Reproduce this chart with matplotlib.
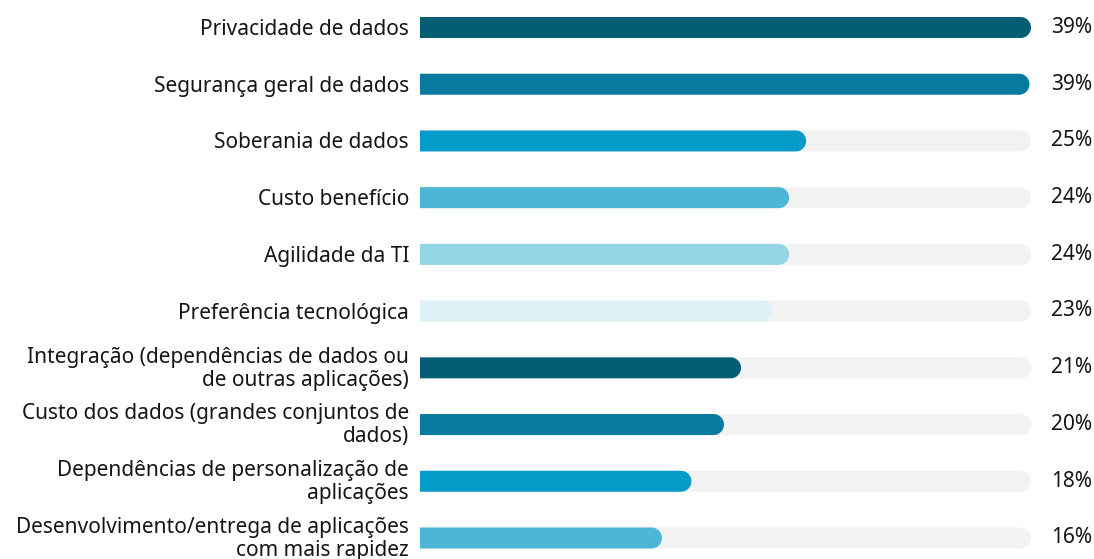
import numpy as np
import matplotlib.pyplot as plt
from matplotlib.patches import Polygon

categories = [
    "Privacidade de dados",
    "Segurança geral de dados",
    "Soberania de dados",
    "Custo benefício",
    "Agilidade da TI",
    "Preferência tecnológica",
    "Integração (dependências de dados ou\nde outras aplicações)",
    "Custo dos dados (grandes conjuntos de\ndados)",
    "Dependências de personalização de\naplicações",
    "Desenvolvimento/entrega de aplicações\ncom mais rapidez",
]
values = [39.4, 39.3, 24.9, 23.8, 23.8, 22.7, 20.7, 19.6, 17.5, 15.6]
value_labels = ["39%", "39%", "25%", "24%", "24%", "23%", "21%", "20%", "18%", "16%"]

palette = ["#055d74", "#077a9d", "#069bc8", "#4db6d7", "#93d4e5", "#dcf0f6"]
track_color = "#f2f2f2"
text_color = "#151515"

W, H = 1094, 559
fig = plt.figure(figsize=(W / 100, H / 100), dpi=100)
ax_left, ax_right = 420, 1031
ax = fig.add_axes([ax_left / W, 0, (ax_right - ax_left) / W, 1])

xmax = max(values)
row_px = 56.7
ax.set_xlim(0, xmax)
ax.set_ylim(9 + 21 / row_px, -27.5 / row_px)
ax.axis("off")

bar_h = 21 / row_px
px_per_x = (ax_right - ax_left) / xmax
rx = 10.5 / px_per_x
ry = bar_h / 2

def rounded_bar(y, v, color):
    # square left end, round right end
    t = np.linspace(-np.pi / 2, np.pi / 2, 40)
    cx = max(v - rx, 0)
    pts = [(0, y - ry)] + [(cx + rx * np.cos(a), y + ry * np.sin(a)) for a in t] + [(0, y + ry)]
    ax.add_patch(Polygon(pts, closed=True, fc=color, ec="none", lw=0))

font = "Noto Sans"
for i, (cat, v, lab) in enumerate(zip(categories, values, value_labels)):
    rounded_bar(i, xmax, track_color)
    rounded_bar(i, v, palette[i % len(palette)])
    one_line = "\n" not in cat
    yc = 1 - (27.5 + i * row_px + (2 if one_line else 1)) / H
    fig.text(409 / W, yc, cat, ha="right", va="center",
             fontsize=15, family=font, color=text_color, linespacing=1.12)
    fig.text(1092 / W, 1 - (27.5 + i * row_px) / H, lab, ha="right", va="center",
             fontsize=15, family=font, color=text_color)

fig.savefig("out.png", dpi=100)
